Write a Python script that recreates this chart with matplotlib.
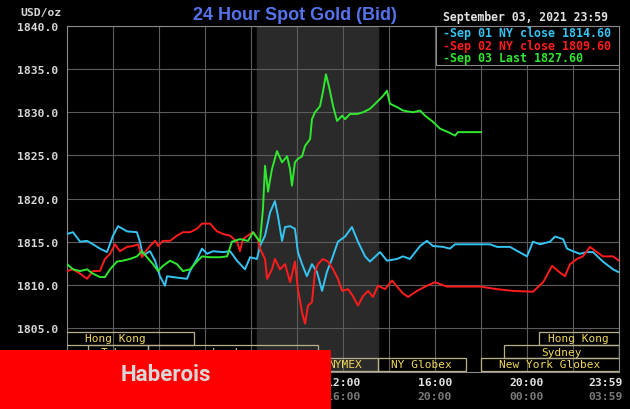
import matplotlib
matplotlib.use("Agg")
import matplotlib.pyplot as plt
from matplotlib.patches import Rectangle

# hours after midnight (New York time) and bid price in USD/oz
sep01_hours = [0.00, 0.26, 0.57, 0.87, 1.13, 1.43, 1.74, 2.00, 2.22, 2.61, 3.04, 3.17, 3.30, 3.61,
               3.83, 4.04, 4.26, 4.35, 4.61, 5.22, 5.35, 5.65, 5.87, 6.09, 6.35, 6.78, 7.09, 7.39,
               7.74, 7.96, 8.26, 8.39, 8.61, 8.83, 9.04, 9.17, 9.35, 9.48, 9.70, 9.91, 10.04, 10.22,
               10.43, 10.65, 10.87, 11.09, 11.30, 11.52, 11.78, 12.09, 12.39, 12.65, 12.96, 13.17,
               13.61, 13.91, 14.35, 14.61, 14.91, 15.35, 15.65, 15.91, 16.35, 16.65, 16.87, 17.52,
               18.39, 18.70, 19.26, 20.00, 20.26, 20.57, 21.00, 21.22, 21.57, 21.74, 22.00, 22.30,
               22.61, 22.87, 23.30, 23.74, 23.96]
sep01_price = [1815.9, 1816.1, 1815.0, 1815.1, 1814.7, 1814.2, 1813.8, 1815.7, 1816.8, 1816.2, 1816.1,
               1815.0, 1813.4, 1813.9, 1812.8, 1811.0, 1809.9, 1811.0, 1810.9, 1810.7, 1811.6, 1813.0,
               1814.2, 1813.6, 1813.9, 1813.8, 1813.9, 1812.8, 1811.8, 1813.2, 1813.0, 1814.5, 1815.7,
               1818.4, 1819.7, 1818.0, 1815.1, 1816.7, 1816.8, 1816.5, 1813.8, 1812.4, 1811.0, 1812.4,
               1811.5, 1809.3, 1811.5, 1813.0, 1815.0, 1815.6, 1816.7, 1815.0, 1813.3, 1812.7, 1813.8,
               1812.8, 1813.0, 1813.3, 1813.0, 1814.5, 1815.1, 1814.5, 1814.4, 1814.2, 1814.7, 1814.7,
               1814.7, 1814.4, 1814.4, 1813.3, 1815.0, 1814.7, 1815.0, 1815.6, 1815.3, 1814.2, 1813.9,
               1813.6, 1813.8, 1813.8, 1812.7, 1811.8, 1811.5]

sep02_hours = [0.00, 0.26, 0.57, 0.87, 1.13, 1.43, 1.65, 1.87, 2.09, 2.30, 2.61, 2.87, 3.09, 3.26,
               3.39, 3.61, 3.83, 3.96, 4.17, 4.48, 4.78, 5.04, 5.35, 5.65, 5.87, 6.22, 6.52, 6.78,
               7.09, 7.39, 7.52, 7.65, 7.96, 8.09, 8.30, 8.39, 8.61, 8.70, 8.91, 9.04, 9.26, 9.48,
               9.70, 9.91, 10.04, 10.22, 10.35, 10.48, 10.65, 10.78, 10.91, 11.13, 11.35, 11.57,
               11.78, 11.96, 12.22, 12.43, 12.65, 12.87, 13.09, 13.30, 13.52, 13.83, 14.13, 14.35,
               14.61, 14.83, 15.22, 15.65, 16.00, 16.52, 17.09, 17.96, 18.70, 19.39, 20.26, 20.70,
               21.09, 21.35, 21.65, 21.87, 22.17, 22.43, 22.74, 23.04, 23.30, 23.74, 24.00]
sep02_price = [1811.6, 1811.8, 1811.3, 1810.7, 1811.6, 1811.6, 1813.0, 1813.6, 1814.7, 1813.9, 1814.4,
               1814.5, 1814.7, 1813.2, 1813.8, 1814.5, 1815.1, 1814.5, 1815.1, 1815.1, 1815.7, 1816.1,
               1816.1, 1816.5, 1817.1, 1817.1, 1816.2, 1815.9, 1815.7, 1815.0, 1813.9, 1815.3, 1815.9,
               1816.1, 1815.3, 1814.2, 1813.0, 1810.7, 1811.8, 1813.0, 1811.8, 1812.4, 1810.3, 1812.7,
               1809.5, 1806.8, 1805.5, 1807.6, 1808.0, 1811.5, 1812.4, 1813.0, 1812.7, 1811.8, 1810.7,
               1809.3, 1809.5, 1808.7, 1807.6, 1808.7, 1809.3, 1808.6, 1809.9, 1809.5, 1810.5, 1809.8,
               1809.0, 1808.6, 1809.3, 1809.9, 1810.3, 1809.8, 1809.8, 1809.8, 1809.5, 1809.3, 1809.2,
               1810.3, 1812.2, 1811.6, 1811.0, 1812.4, 1813.0, 1813.3, 1814.4, 1813.8, 1813.3, 1813.3,
               1812.8]

sep03_hours = [0.00, 0.26, 0.57, 0.87, 1.13, 1.43, 1.65, 1.87, 2.17, 2.43, 2.74, 3.04, 3.26, 3.48,
               3.74, 3.96, 4.17, 4.48, 4.78, 5.04, 5.35, 5.65, 5.87, 6.22, 6.65, 6.96, 7.17, 7.52,
               7.87, 8.09, 8.30, 8.39, 8.52, 8.61, 8.74, 8.91, 9.13, 9.35, 9.57, 9.70, 9.78, 9.91,
               10.04, 10.22, 10.35, 10.57, 10.65, 10.78, 11.00, 11.13, 11.26, 11.39, 11.57, 11.74,
               11.96, 12.09, 12.30, 12.61, 12.87, 13.17, 13.48, 13.74, 13.91, 14.04, 14.35, 14.61,
               15.04, 15.35, 15.57, 15.91, 16.22, 16.57, 16.87, 17.00, 17.52, 18.00]
sep03_price = [1812.4, 1811.8, 1811.6, 1811.8, 1811.3, 1810.9, 1810.9, 1811.8, 1812.7, 1812.8, 1813.0,
               1813.3, 1813.9, 1813.2, 1812.4, 1811.6, 1812.2, 1812.8, 1812.4, 1811.6, 1811.8, 1812.7,
               1813.3, 1813.2, 1813.2, 1813.3, 1815.0, 1815.3, 1815.1, 1816.1, 1815.3, 1815.0, 1818.8,
               1823.8, 1820.8, 1823.4, 1825.5, 1824.2, 1824.9, 1823.4, 1821.5, 1824.2, 1824.6, 1824.9,
               1826.1, 1826.9, 1829.2, 1830.0, 1830.7, 1832.4, 1834.4, 1833.0, 1830.7, 1829.0, 1829.6,
               1829.2, 1829.8, 1829.8, 1830.0, 1830.4, 1831.2, 1831.9, 1832.5, 1831.0, 1830.6, 1830.2,
               1830.0, 1830.2, 1829.6, 1828.9, 1828.1, 1827.7, 1827.3, 1827.7, 1827.7, 1827.7]

legend_labels = ["Sep 01 NY close 1814.60", "Sep 02 NY close 1809.60", "Sep 03 Last 1827.60"]
line_colors = ["#35c4f2", "#ff1c1c", "#2fe82f"]

price_ticks = [1805.0, 1810.0, 1815.0, 1820.0, 1825.0, 1830.0, 1835.0, 1840.0]
grid_hours = [0, 2, 4, 6, 8, 10, 12, 14, 16, 18, 20, 22, 24]
label_hours = [0, 4, 8, 12, 16, 20, 24]
labels_ny = ["00:00", "04:00", "08:00", "12:00", "16:00", "20:00", "23:59"]
labels_gmt = ["04:00", "08:00", "12:00", "16:00", "20:00", "00:00", "03:59"]

us_session = (8.25, 13.5)

# label, start hour, end hour, row (0 = top)
sessions = [
    ("Hong Kong", -1.3, 5.5, 0),
    ("Hong Kong", 20.5, 25.0, 0),
    ("Tokyo", 0.9, 3.5, 1),
    ("London", 3.5, 10.9, 1),
    ("Sydney", 19.0, 24.0, 1),
    ("", -1.0, 10.7, 2),
    ("NYMEX", 10.7, 13.5, 2),
    ("NY Globex", 13.5, 17.35, 2),
    ("New York Globex", 18.0, 25.0, 2),
]

mono = ["DejaVu Sans Mono"]

fig = plt.figure(figsize=(6.3, 4.1), dpi=100, facecolor="black")
ax = fig.add_axes([67 / 630, 1 - 373 / 410, 552 / 630, 346 / 410])
ax.set_facecolor("black")

ax.axvspan(*us_session, color="#2a2a2a", zorder=0)

for h, p, c in zip([sep01_hours, sep02_hours, sep03_hours],
                   [sep01_price, sep02_price, sep03_price], line_colors):
    ax.plot(h, p, color=c, lw=1.4, zorder=3)

ax.set_xlim(0, 24)
ax.set_ylim(1799.9, 1840)
ax.set_xticks(grid_hours)
ax.set_xticklabels([])
ax.set_yticks(price_ticks)
ax.set_yticklabels(["%.1f" % v for v in price_ticks], family=mono, weight="bold",
                   fontsize=8.2, color="#d6d6d6")
ax.tick_params(length=0, pad=6)
ax.grid(color="#5c5c5c", lw=0.8)
ax.set_axisbelow(True)
for s in ax.spines.values():
    s.set_color("#8a8a8a")
    s.set_linewidth(0.8)

# session bars below the price area
row_h = 13 / 346
row_bottom = [27 / 346, 14 / 346, 1 / 346]
trans = ax.get_xaxis_transform()
for name, start, end, row in sessions:
    ax.add_patch(Rectangle((start, row_bottom[row]), end - start, row_h, transform=trans,
                           facecolor="none", edgecolor="#b8b08a", lw=0.9, zorder=4))
    if name:
        mid = (start + end) / 2 if start < 0 else (start + min(end, 24)) / 2
        ax.text(mid, row_bottom[row] + row_h / 2, name, transform=trans, ha="center",
                va="center", family=mono, fontsize=8, color="#f2d85a", zorder=5)

# two rows of time labels (New York / GMT)
for h, a, b in zip(label_hours, labels_ny, labels_gmt):
    ha = "right" if h == 24 else "center"
    dx = 3 if h == 24 else 0
    ax.annotate(a, (h, 0), xycoords=trans, xytext=(dx, -7.5), textcoords="offset points",
                ha=ha, va="center", family=mono, weight="bold", fontsize=8.2, color="#e2e2e2")
    ax.annotate(b, (h, 0), xycoords=trans, xytext=(dx, -17.5), textcoords="offset points",
                ha=ha, va="center", family=mono, weight="bold", fontsize=8.2, color="#7a7a7a")

# legend box in the top right corner
ax.add_patch(Rectangle((0.668, 0.887), 0.34, 0.113, transform=ax.transAxes,
                       facecolor="black", edgecolor="#8a8a8a", lw=0.8, zorder=6))
for i, (lab, c) in enumerate(zip(legend_labels, line_colors)):
    ax.text(0.681, 0.980 - i * 0.036, "-" + lab, transform=ax.transAxes, ha="left",
            va="center", family=mono, weight="bold", fontsize=8.4, color=c, zorder=7)

fig.text(295 / 630, 1 - 15.5 / 410, "24 Hour Spot Gold (Bid)", ha="center", va="center",
         family=["Liberation Sans"], weight="bold", fontsize=13, color="#5573ee")
fig.text(62 / 630, 1 - 13 / 410, "USD/oz", ha="right", va="center", family=mono,
         weight="bold", fontsize=8.2, color="#d6d6d6")
fig.text(608 / 630, 1 - 17 / 410, "September 03, 2021 23:59", ha="right", va="center",
         family=mono, weight="bold", fontsize=8.3, color="#e2e2e2")

# red banner at the bottom left
fig.add_artist(Rectangle((0, 0), 331 / 630, 59 / 410, transform=fig.transFigure,
                         facecolor="#ff0000", edgecolor="none", zorder=10))
fig.text(166 / 630, 1 - 375 / 410, "Haberois", ha="center", va="center",
         family=["Roboto", "DejaVu Sans"], weight="bold", fontsize=16, color="#d8d8d8",
         zorder=11)

fig.savefig("out.png", dpi=100, facecolor="black")
